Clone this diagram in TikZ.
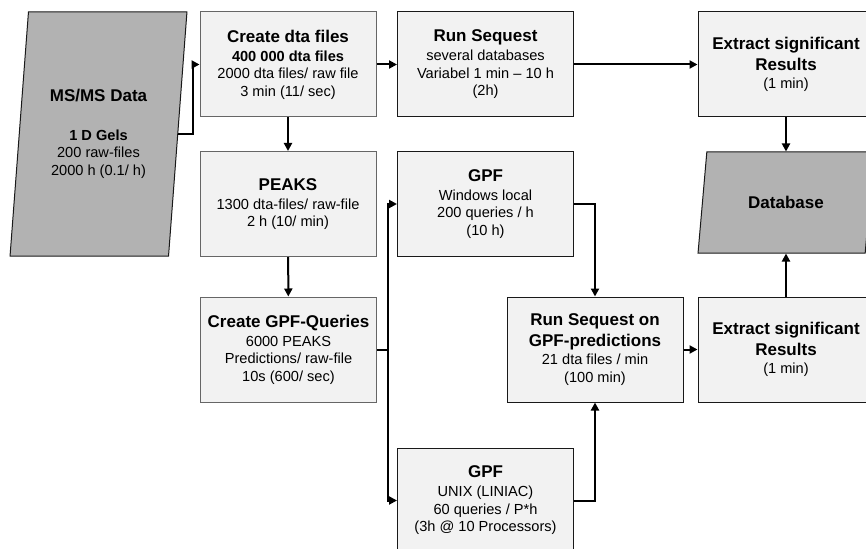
\documentclass[tikz,border=0pt]{standalone}
\usepackage{fontspec}
\setmainfont{Liberation Sans}
\newcommand{\bodyfont}{\fontsize{14.6}{17.5}\selectfont}
\newcommand{\titlefont}{\fontsize{17}{20.5}\selectfont\bfseries}
\usetikzlibrary{arrows.meta}
\usetikzlibrary{shapes.geometric}
\tikzstyle{task}=[rectangle,draw=black!90,fill=black!5,line width=1pt,minimum width=176,minimum height=105,align=center,inner sep=2pt,font=\bodyfont]
\tikzstyle{pale}=[draw=black!60]
\tikzstyle{data}=[trapezium,trapezium stretches=true,draw=black!90,fill=black!30,line width=1pt,align=center,inner sep=0pt,font=\bodyfont]
\tikzstyle{flow}=[-{Triangle[length=8pt,width=8pt]},line width=2pt]

\begin{document}
\begin{tikzpicture}[x=1pt, y=-1pt]
    \useasboundingbox (0,0) rectangle (866,548);
    \node[data, trapezium left angle=81.8, trapezium right angle=98.2, minimum width=177, minimum height=244] (msms) at (98.5,134)
        {{\titlefont MS/MS Data}\\[21pt]{\bfseries 1 D Gels}\\200 raw-files\\2000 h (0.1/ h)};
    \node[task, pale] (create) at (288,64.5)
        {{\titlefont Create dta files}\\[1.5pt]{\bfseries 400 000 dta files}\\2000 dta files/ raw file\\3 min (11/ sec)};
    \node[task] (runseq) at (485.5,64.5)
        {{\titlefont Run Sequest}\\[1.5pt]several databases\\Variabel 1 min -- 10 h\\(2h)};
    \node[task] (extract1) at (786,64.5)
        {{\titlefont Extract significant}\\[3pt]{\titlefont Results}\\[1pt](1 min)};
    \node[task, pale] (peaks) at (288,204)
        {{\titlefont PEAKS}\\[1.5pt]1300 dta-files/ raw-file\\2 h (10/ min)};
    \node[task] (gpfwin) at (485.5,204)
        {{\titlefont GPF}\\[1.5pt]Windows local\\200 queries / h\\(10 h)};
    \node[data, trapezium left angle=71.4, trapezium right angle=108.6, minimum width=176, minimum height=101] (database) at (786,202.5)
        {{\titlefont Database}};
    \node[task, pale] (queries) at (288.5,349.5)
        {{\titlefont Create GPF-Queries}\\[1.5pt]6000 PEAKS\\Predictions/ raw-file\\10s (600/ sec)};
    \node[task] (rungpf) at (595,349.5)
        {{\titlefont Run Sequest on}\\[3pt]{\titlefont GPF-predictions}\\[1pt]21 dta files / min\\(100 min)};
    \node[task] (extract2) at (786,349.5)
        {{\titlefont Extract significant}\\[3pt]{\titlefont Results}\\[1pt](1 min)};
    \node[task] (gpfunix) at (485.5,500.5)
        {{\titlefont GPF}\\[1.5pt]UNIX (LINIAC)\\60 queries / P*h\\(3h @ 10 Processors)};
    \draw[flow] (msms.east) -| ([xshift=-7pt]create.west) -- (create.west);
    \draw[flow] (create) -- (runseq);
    \draw[flow] (runseq) -- (extract1);
    \draw[flow] (create) -- (peaks);
    \draw[flow] (peaks) -- (queries);
    \draw[flow] (extract1) -- (database);
    \draw[flow] (extract2) -- (database);
    \draw[line width=2pt] (queries.east) -- ++(11,0) coordinate (fork);
    \draw[flow] (fork) |- (gpfwin.west);
    \draw[flow] (fork) |- (gpfunix.west);
    \draw[flow] (gpfwin.east) -| (rungpf.north);
    \draw[flow] (gpfunix.east) -| (rungpf.south);
    \draw[flow] (rungpf) -- (extract2);
\end{tikzpicture}
\end{document}
